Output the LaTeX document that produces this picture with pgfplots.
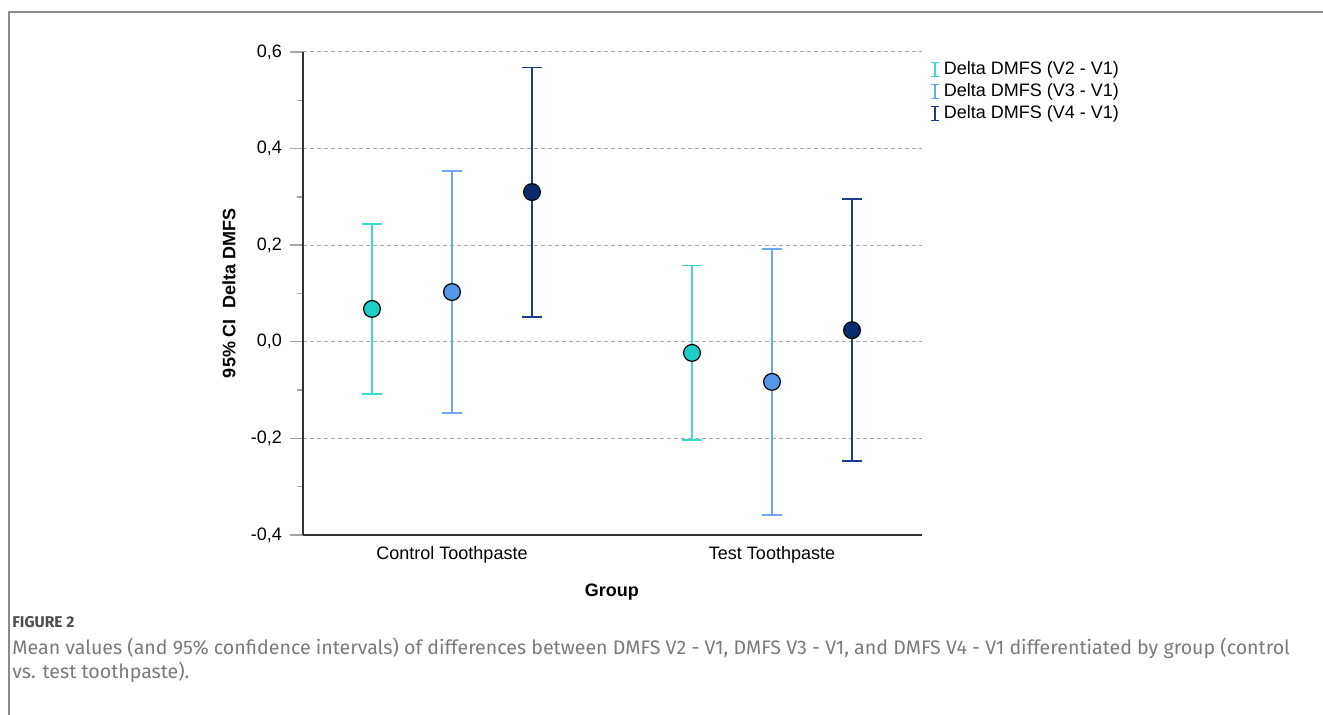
\documentclass[border=0pt]{standalone}
\usepackage{fontspec}
\setmainfont{Liberation Sans}
\newfontfamily\capfont{Fira Sans}
\usepackage{pgfplots}
\pgfplotsset{compat=1.18}
\definecolor{cA}{HTML}{1ECFC6}
\definecolor{cAbar}{HTML}{40D8D2}
\definecolor{cB}{HTML}{5596E6}
\definecolor{cBbar}{HTML}{6DA8EF}
\definecolor{cC}{HTML}{0A2A6E}
\definecolor{cCbar}{HTML}{1D3C8C}
\definecolor{frame}{HTML}{8A8A8A}
\definecolor{capgray}{HTML}{7A7A7A}
\begin{document}
\begin{tikzpicture}[x=0.5pt,y=0.5pt]
\path[use as bounding box] (0,0) rectangle (1323,715);
\draw[frame, line width=1pt] (9,0) -- (9,703) -- (1323,703);
\begin{axis}[
  at={(151.5pt,90pt)}, anchor=south west,
  scale only axis, width=309.5pt, height=241.5pt,
  xmin=-0.4656, xmax=1.46875, ymin=-0.4, ymax=0.6,
  axis x line=bottom, axis y line=left,
  axis line style={-, draw=black!80, line width=0.7pt},
  xtick={0,1}, xticklabels={Control Toothpaste, Test Toothpaste},
  xtick style={draw=none},
  ytick={-0.4,-0.2,0,0.2,0.4,0.6},
  yticklabels={{-0,4},{-0,2},{0,0},{0,2},{0,4},{0,6}},
  minor ytick={-0.3,-0.1,0.1,0.3,0.5},
  tick align=outside,
  major tick length=6.5pt, minor tick length=3pt,
  ytick style={draw=black!35, line width=0.7pt},
  minor tick style={draw=black, line width=0.6pt},
  ymajorgrids,
  major grid style={draw=black!35, line width=0.5pt, dash pattern=on 2pt off 1.5pt},
  tick label style={font=\fontsize{9}{11}\selectfont},
  yticklabel style={xshift=-0.5pt},
  xticklabel style={yshift=4.5pt},
  xlabel={\textbf{Group}}, ylabel={\textbf{95\% CI\ \ Delta DMFS}},
  label style={font=\fontsize{9}{11}\selectfont},
  xlabel style={at={(axis description cs:0.499,-0.118)}, anchor=center},
  ylabel style={at={(axis description cs:-0.1195,0.5)}, anchor=center},
  legend style={draw=none, fill=none, at={(1.003,0.998)}, anchor=north west,
     font=\fontsize{9}{11}\selectfont, row sep=-1pt},
  legend cell align=left,
  clip=false,
]
\addplot[draw=none, mark=*, mark size=4.2pt, mark options={fill=cA, draw=black, line width=0.6pt},
  error bars/.cd, y dir=both, y explicit,
  error bar style={draw=cAbar, line width=0.9pt},
  error mark options={draw=cAbar, line width=0.9pt, mark size=5pt, rotate=90},
  /pgfplots/legend image code/.code={\draw[cAbar, line width=0.8pt] (2pt,-3.5pt)--(2pt,3.5pt) (0pt,-3.5pt)--(4pt,-3.5pt) (0pt,3.5pt)--(4pt,3.5pt);}]
coordinates {(-0.25,0.068) +- (0,0.176) (0.75,-0.023) +- (0,0.181)};
\addlegendentry{Delta DMFS (V2 - V1)}
\addplot[draw=none, mark=*, mark size=4.2pt, mark options={fill=cB, draw=black, line width=0.6pt},
  error bars/.cd, y dir=both, y explicit,
  error bar style={draw=cBbar, line width=0.9pt},
  error mark options={draw=cBbar, line width=0.9pt, mark size=5pt, rotate=90},
  /pgfplots/legend image code/.code={\draw[cBbar, line width=0.8pt] (2pt,-3.5pt)--(2pt,3.5pt) (0pt,-3.5pt)--(4pt,-3.5pt) (0pt,3.5pt)--(4pt,3.5pt);}]
coordinates {(0,0.103) +- (0,0.251) (1,-0.083) +- (0,0.275)};
\addlegendentry{Delta DMFS (V3 - V1)}
\addplot[draw=none, mark=*, mark size=4.2pt, mark options={fill=cC, draw=black, line width=0.6pt},
  error bars/.cd, y dir=both, y explicit,
  error bar style={draw=cCbar, line width=0.9pt},
  error mark options={draw=cCbar, line width=0.9pt, mark size=5pt, rotate=90},
  /pgfplots/legend image code/.code={\draw[cCbar, line width=0.8pt] (2pt,-3.5pt)--(2pt,3.5pt) (0pt,-3.5pt)--(4pt,-3.5pt) (0pt,3.5pt)--(4pt,3.5pt);}]
coordinates {(0.25,0.310) +- (0,0.258) (1.25,0.024) +- (0,0.271)};
\addlegendentry{Delta DMFS (V4 - V1)}
\end{axis}
\node[anchor=base west, inner sep=0pt, text=black!70] at (12,87) {\capfont\bfseries\fontsize{7.8}{9}\selectfont FIGURE 2};
\node[anchor=base west, inner sep=0pt, text=capgray] at (12,60) {\capfont\fontsize{9.8}{11}\selectfont Mean values (and 95\% confidence intervals) of differences between DMFS V2 - V1, DMFS V3 - V1, and DMFS V4 - V1 differentiated by group (control};
\node[anchor=base west, inner sep=0pt, text=capgray] at (12,36) {\capfont\fontsize{9.8}{11}\selectfont vs. test toothpaste).};
\end{tikzpicture}
\end{document}
